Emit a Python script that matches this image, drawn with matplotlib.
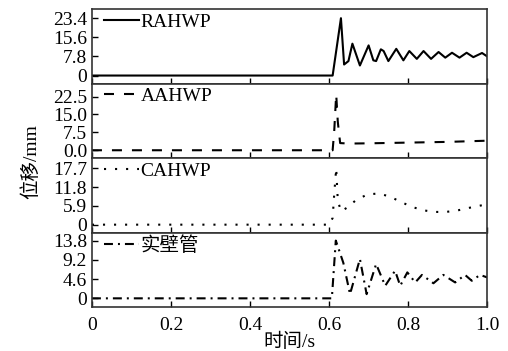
import matplotlib.pyplot as plt
import numpy as np

plt.rcParams['font.family'] = ['Liberation Serif', 'Noto Sans CJK SC']
plt.rcParams['font.size'] = 14

# displacement histories (time in s, displacement in mm)
t_rahwp = [0, 0.609, 0.630, 0.638, 0.649, 0.659, 0.678, 0.700, 0.712, 0.719,
           0.731, 0.738, 0.750, 0.770, 0.788, 0.803, 0.822, 0.839, 0.858,
           0.877, 0.894, 0.911, 0.930, 0.948, 0.965, 0.987, 1.0]
d_rahwp = [0, 0, 23.4, 4.5, 5.9, 13.0, 4.1, 12.3, 6.2, 5.9,
           10.7, 10.0, 5.9, 10.9, 6.2, 10.0, 6.8, 10.0, 6.8,
           9.6, 7.3, 9.3, 7.3, 9.3, 7.5, 9.2, 7.8]

t_aahwp = [0, 0.609, 0.613, 0.618, 0.622, 0.628, 0.65, 0.7, 0.8, 0.9, 1.0]
d_aahwp = [0, 0, 8.0, 23.4, 12.0, 3.0, 2.8, 2.9, 3.2, 3.5, 4.0]

t_cahwp = [0, 0.600, 0.609, 0.613, 0.618, 0.622, 0.630, 0.645, 0.668, 0.697,
           0.726, 0.754, 0.781, 0.809, 0.839, 0.867, 0.896, 0.926, 0.955,
           0.987, 1.0]
d_cahwp = [0, 0, 2.1, 9.6, 17.7, 7.7, 4.2, 5.3, 7.7, 9.5,
           9.8, 8.8, 7.2, 5.6, 4.5, 4.0, 4.0, 4.5, 5.3,
           6.1, 6.3]

t_solid = [0, 0.607, 0.617, 0.636, 0.653, 0.678, 0.695, 0.719, 0.742, 0.767,
           0.780, 0.798, 0.818, 0.835, 0.864, 0.889, 0.919, 0.944, 0.961,
           0.982, 1.0]
d_solid = [0, 0, 13.8, 8.5, 1.0, 9.4, 1.0, 8.2, 3.0, 6.6,
           3.0, 6.2, 3.8, 5.6, 3.6, 5.6, 3.8, 5.6, 4.2,
           5.6, 5.0]

labels = ['RAHWP', 'AAHWP', 'CAHWP', '实壁管']
yticks = [[0, 7.8, 15.6, 23.4], [0, 7.5, 15.0, 22.5],
          [0, 5.9, 11.8, 17.7], [0, 4.6, 9.2, 13.8]]
yticklabels = [['0', '7.8', '15.6', '23.4'], ['0.0', '7.5', '15.0', '22.5'],
               ['0', '5.9', '11.8', '17.7'], ['0', '4.6', '9.2', '13.8']]
xticks = [0, 0.2, 0.4, 0.6, 0.8, 1.0]

series = [(t_rahwp, d_rahwp), (t_aahwp, d_aahwp),
          (t_cahwp, d_cahwp), (t_solid, d_solid)]
dashes = [None, (4.8, 4.8), (1, 4.3), (4.3, 2.4, 0.95, 2.4)]
ylims = [(-3.3, 27.1), (-3.3, 27.9), (-2.5, 20.9), (-2.1, 15.7)]

fig, axes = plt.subplots(4, 1, figsize=(5.08, 3.51), dpi=100, sharex=True)
fig.subplots_adjust(left=0.181, right=0.959, top=0.974, bottom=0.125,
                    hspace=0)

for i, ax in enumerate(axes):
    t, d = series[i]
    line, = ax.plot(t, d, color='black', lw=1.5, label=labels[i])
    if dashes[i] is not None:
        line.set_dashes(dashes[i])
    ax.set_xlim(0, 1.0)
    ax.set_ylim(*ylims[i])
    ax.set_yticks(yticks[i])
    ax.set_yticklabels(yticklabels[i])
    ax.set_xticks(xticks)
    ax.tick_params(direction='in', length=4, width=1, pad=3.5)
    for sp in ax.spines.values():
        sp.set_linewidth(1.2)
        sp.set_color('#333333')
    ax.legend(loc='upper left', bbox_to_anchor=(0.02, 1.0), frameon=False,
              handlelength=1.8, handletextpad=0.1, borderaxespad=0.1,
              borderpad=0.1)

axes[-1].set_xticklabels(['0', '0.2', '0.4', '0.6', '0.8', '1.0'])
axes[-1].tick_params(axis='x', pad=7)

fig.text(0.061, 0.54, '位移/mm', rotation=90, ha='center', va='center')
fig.text(0.57, 0.025, '时间/s', ha='center', va='center')

fig.savefig('out.png', dpi=100)
